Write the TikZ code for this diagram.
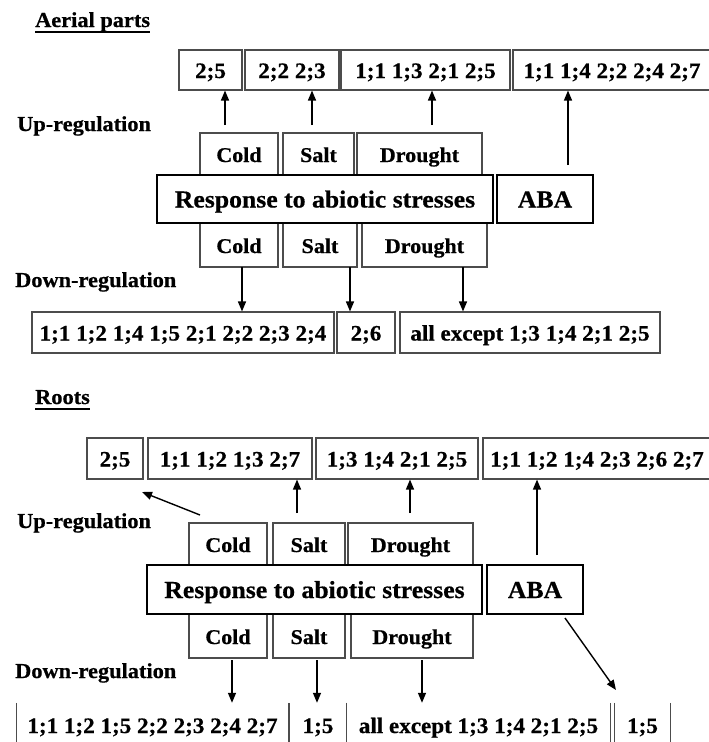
\documentclass[tikz,border=0pt]{standalone}
\usepackage{fontspec}
\setmainfont{Liberation Serif}[FakeStretch=1.05, BoldFeatures={FakeBold=0.6}]
\usetikzlibrary{arrows.meta,calc}
\tikzset{
  box/.style={draw=black!70, line width=1.1pt, inner sep=0pt, fill=white,
    text height=16pt, text depth=0pt,
    font=\fontsize{21}{24}\selectfont\bfseries},
  num/.style={box, font=\fontsize{22}{24}\selectfont\bfseries},
  bigbox/.style={draw=black, line width=2.4pt, inner sep=0pt, fill=white,
    text height=17pt, text depth=0pt,
    font=\fontsize{24.5}{28}\selectfont\bfseries},
  openbox/.style={inner sep=0pt, text height=16pt, text depth=0pt,
    font=\fontsize{22}{24}\selectfont\bfseries},
  side/.style={draw=black!70, line width=1.1pt},
  lbl/.style={anchor=base west, inner sep=0pt, font=\fontsize{21.3}{24}\selectfont\bfseries},
  arr/.style={line width=1.4pt, -{Triangle[width=8pt,length=10pt]}},
  uline/.style={line width=1.2pt}
}
\begin{document}
\begin{tikzpicture}[x=1pt,y=-1pt]
\useasboundingbox (0,0) rectangle (709,742);
\clip (0,0) rectangle (709,742);
\fill[white] (0,0) rectangle (709,742);

% ===================== Aerial parts =====================
\node[lbl] (ttl1) at (35,27) {Aerial parts};
\draw[uline] ($(ttl1.base west)+(0,5)$) -- ($(ttl1.base east)+(0,5)$);
\node[lbl] (up1) at (17,131) {Up-regulation};
\node[lbl] (dn1) at (15,287) {Down-regulation};

% top row
\node[num, minimum width=63pt, minimum height=40pt] (t1) at (210.5,70) {2;5};
\node[num, minimum width=94pt, minimum height=40pt] (t2) at (292,70) {2;2 2;3};
\node[num, minimum width=169pt, minimum height=40pt] (t3) at (425.5,70) {1;1 1;3 2;1 2;5};
\node[num, minimum width=198pt, minimum height=40pt] (t4) at (612,70) {1;1 1;4 2;2 2;4 2;7};

% stress boxes
\node[box, minimum width=78pt, minimum height=42pt] (cu1) at (239,154) {Cold};
\node[box, minimum width=71pt, minimum height=42pt] (su1) at (318.5,154) {Salt};
\node[box, minimum width=125pt, minimum height=42pt] (du1) at (419.5,154) {Drought};
\node[box, minimum width=78pt, minimum height=44pt] (cd1) at (239,245) {Cold};
\node[box, minimum width=74pt, minimum height=44pt] (sd1) at (320,245) {Salt};
\node[box, minimum width=125pt, minimum height=44pt] (dd1) at (424.5,245) {Drought};
\node[bigbox, minimum width=336pt, minimum height=48pt] (resp1) at (325,199) {Response to abiotic stresses};
\node[bigbox, minimum width=96pt, minimum height=48pt] (aba1) at (545,199) {ABA};

% bottom row
\node[num, minimum width=302pt, minimum height=41pt] (b1) at (183,332.5) {1;1 1;2 1;4 1;5 2;1 2;2 2;3 2;4};
\node[num, minimum width=58pt, minimum height=41pt] (b2) at (366,332.5) {2;6};
\node[num, minimum width=260pt, minimum height=41pt] (b3) at (530,332.5) {all except 1;3 1;4 2;1 2;5};

% arrows up
\coordinate (a1) at (225,125);
\coordinate (a2) at (312,125);
\coordinate (a3) at (432,125);
\coordinate (a4) at (568,165);
\draw[arr] (a1) -- (a1 |- t1.south);
\draw[arr] (a2) -- (a2 |- t2.south);
\draw[arr] (a3) -- (a3 |- t3.south);
\draw[arr] (a4) -- (a4 |- t4.south);
% arrows down
\coordinate (d1) at (242,267);
\coordinate (d2) at (350,267);
\coordinate (d3) at (463,267);
\draw[arr] (d1) -- (d1 |- b1.north);
\draw[arr] (d2) -- (d2 |- b2.north);
\draw[arr] (d3) -- (d3 |- b3.north);

% ===================== Roots =====================
\node[lbl] (ttl2) at (35,404) {Roots};
\draw[uline] ($(ttl2.base west)+(0,5)$) -- ($(ttl2.base east)+(0,5)$);
\node[lbl] (up2) at (17,528) {Up-regulation};
\node[lbl] (dn2) at (15,678) {Down-regulation};

% top row
\node[num, minimum width=56pt, minimum height=41pt] (r1) at (115,458.5) {2;5};
\node[num, minimum width=164pt, minimum height=41pt] (r2) at (230,458.5) {1;1 1;2 1;3 2;7};
\node[num, minimum width=162pt, minimum height=41pt] (r3) at (397,458.5) {1;3 1;4 2;1 2;5};
\node[num, minimum width=228pt, minimum height=41pt] (r4) at (597,458.5) {1;1 1;2 1;4 2;3 2;6 2;7};

% stress boxes
\node[box, minimum width=78pt, minimum height=42pt] (cu2) at (228,544) {Cold};
\node[box, minimum width=72pt, minimum height=42pt] (su2) at (309,544) {Salt};
\node[box, minimum width=125pt, minimum height=42pt] (du2) at (410.5,544) {Drought};
\node[box, minimum width=78pt, minimum height=44pt] (cd2) at (228,636) {Cold};
\node[box, minimum width=72pt, minimum height=44pt] (sd2) at (309,636) {Salt};
\node[box, minimum width=122pt, minimum height=44pt] (dd2) at (412,636) {Drought};
\node[bigbox, minimum width=335pt, minimum height=49pt] (resp2) at (314.5,589.5) {Response to abiotic stresses};
\node[bigbox, minimum width=96pt, minimum height=49pt] (aba2) at (535,589.5) {ABA};

% bottom row (only the sides are visible)
\node[openbox, minimum width=271pt, minimum height=44pt] (x1) at (152.5,725) {1;1 1;2 1;5 2;2 2;3 2;4 2;7};
\node[openbox, minimum width=57pt, minimum height=44pt] (x2) at (318,725) {1;5};
\node[openbox, minimum width=263pt, minimum height=44pt] (x3) at (478.5,725) {all except 1;3 1;4 2;1 2;5};
\node[openbox, minimum width=55pt, minimum height=44pt] (x4) at (642.5,725) {1;5};
\foreach \n in {x1,x2,x3,x4}{
  \draw[side] (\n.north west) -- (\n.south west);
  \draw[side] (\n.north east) -- (\n.south east);
}

% arrows up
\coordinate (g0) at (200,515);
\coordinate (g0e) at (142,492);
\coordinate (g1) at (297,513);
\coordinate (g2) at (410,513);
\coordinate (g3) at (537,555);
\draw[arr] (g0) -- (g0e);
\draw[arr] (g1) -- (g1 |- r2.south);
\draw[arr] (g2) -- (g2 |- r3.south);
\draw[arr] (g3) -- (g3 |- r4.south);
% arrows down
\coordinate (h1) at (232,660);
\coordinate (h2) at (317,660);
\coordinate (h3) at (422,660);
\coordinate (h4) at (565,618);
\coordinate (h4e) at (616,690);
\draw[arr] (h1) -- (h1 |- x1.north);
\draw[arr] (h2) -- (h2 |- x2.north);
\draw[arr] (h3) -- (h3 |- x3.north);
\draw[arr] (h4) -- (h4e);
\end{tikzpicture}
\end{document}
